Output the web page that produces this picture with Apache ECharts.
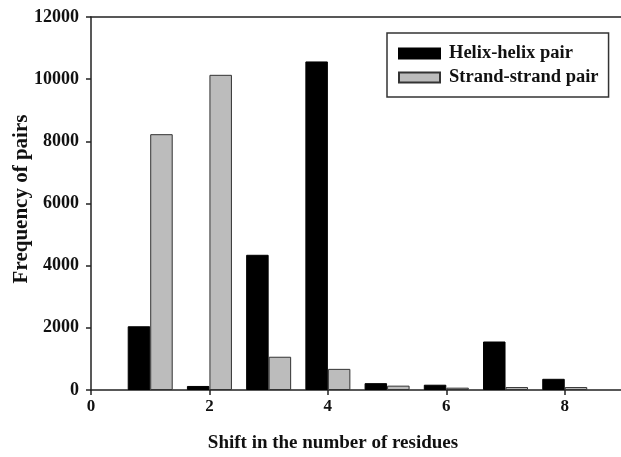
<!DOCTYPE html>
<html>
<head>
<meta charset="utf-8">
<script src="https://cdn.jsdelivr.net/npm/echarts@6/dist/echarts.min.js"></script>
<style>html,body{margin:0;padding:0;background:#fff;}#c{width:621px;height:457px;}</style>
</head>
<body>
<div id="c"></div>
<script>
var shifts = [1, 2, 3, 4, 5, 6, 7, 8];
var helixHelix = [2050, 130, 4350, 10570, 220, 170, 1560, 360];
var strandStrand = [8230, 10140, 1070, 680, 140, 75, 95, 95];
var yTicks = [0, 2000, 4000, 6000, 8000, 10000, 12000];
var xTicks = [0, 2, 4, 6, 8];
var seriesNames = ['Helix-helix pair', 'Strand-strand pair'];

var FONT = '"Liberation Serif", "DejaVu Serif", serif';
function pairs(vals){ return shifts.map(function(s,i){ return [s, vals[i]]; }); }

var chart = echarts.init(document.getElementById('c'), null, {renderer:'canvas'});
chart.setOption({
  animation: false,
  backgroundColor: '#fff',
  grid: { left: 91, top: 17, right: 0, bottom: 67 },
  legend: {
    orient: 'vertical',
    left: 387, top: 33,
    padding: [11, 10, 10, 11],
    itemWidth: 41, itemHeight: 10, itemGap: 5,
    borderColor: '#333', borderWidth: 1.5, backgroundColor: '#fff',
    textStyle: { fontFamily: FONT, fontWeight: 'bold', fontSize: 18.5, color: '#111', padding: [0, 0, 0, 4] },
    data: [{name: seriesNames[0], icon: 'rect'}, {name: seriesNames[1], icon: 'rect'}]
  },
  xAxis: [{
    type: 'value', min: 0, max: 8.95,
    axisLine: { show: true, lineStyle: { color: '#222', width: 1.5 } },
    axisTick: { show: true, length: 5, lineStyle: { color: '#222', width: 1.5 },
      customValues: xTicks },
    axisLabel: { margin: 8, fontFamily: FONT, fontWeight: 'bold', fontSize: 17, color: '#111',
      customValues: xTicks },
    splitLine: { show: false }
  }, {
    type: 'value', min: 0, max: 8.95, position: 'top',
    axisLine: { show: true, lineStyle: { color: '#222', width: 1.5 } },
    axisTick: { show: false }, axisLabel: { show: false }, splitLine: { show: false }
  }],
  yAxis: {
    type: 'value', min: 0, max: 12000, interval: 2000,
    axisLine: { show: true, lineStyle: { color: '#222', width: 1.5 } },
    axisTick: { show: true, length: 5, lineStyle: { color: '#222', width: 1.5 } },
    axisLabel: { margin: 12, fontFamily: FONT, fontWeight: 'bold', fontSize: 18, color: '#111',
      customValues: yTicks, formatter: function(v){ return String(v); } },
    splitLine: { show: false }
  },
  graphic: [
    { type: 'text', x: 333, y: 443,
      style: { text: 'Shift in the number of residues', fill: '#111',
        font: 'bold 19px ' + FONT, textAlign: 'center', textVerticalAlign: 'middle' } },
    { type: 'text', x: 22, y: 199, rotation: Math.PI / 2,
      style: { text: 'Frequency of pairs', fill: '#111',
        font: 'bold 21px ' + FONT, textAlign: 'center', textVerticalAlign: 'middle' } }
  ],
  series: [{
    name: seriesNames[0], type: 'bar', data: pairs(helixHelix),
    barWidth: 22.5, barGap: '0%',
    itemStyle: { color: '#000', borderColor: '#000', borderWidth: 1 }
  }, {
    name: seriesNames[1], type: 'bar', data: pairs(strandStrand),
    barWidth: 22.5, barGap: '0%',
    itemStyle: { color: '#bcbcbc', borderColor: '#333', borderWidth: 1 }
  }]
});
</script>
</body>
</html>
